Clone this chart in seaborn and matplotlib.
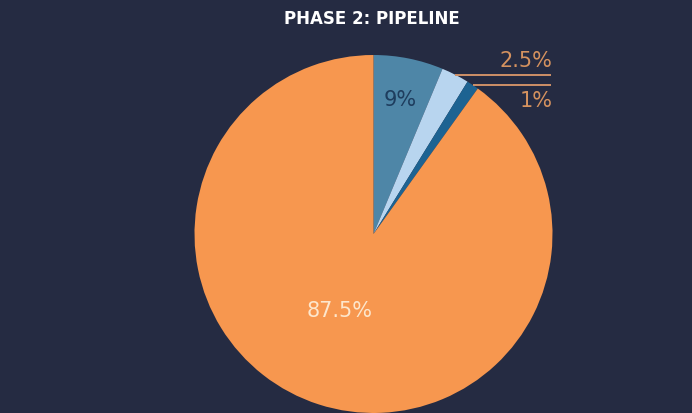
import numpy as np
import matplotlib
matplotlib.use("Agg")
import matplotlib.pyplot as plt
import seaborn as sns

# -----------------------------
# Data (slice sizes as drawn, labels as printed)
# -----------------------------
slice_names = ["Segment A", "Segment B", "Segment C", "Segment D"]
slice_sizes = [6.3, 2.5, 1.1, 90.1]
slice_labels = ["9%", "2.5%", "1%", "87.5%"]
slice_colors = ["#4e86a7", "#b8d5ef", "#1d6392", "#f7974f"]
title_text = "PHASE 2: PIPELINE"

BG = "#252b42"
LEADER = "#cf9068"

sns.set_theme(style="dark", rc={"figure.facecolor": BG, "axes.facecolor": BG})
plt.rcParams["font.family"] = ["DejaVu Sans"]

fig = plt.figure(figsize=(6.92, 4.14), dpi=100)
# axes square in pixels, centred on the pie
cx, cy, r_px = 373.5, 414 - 235, 180
ax = fig.add_axes([(cx - r_px) / 692, (cy - r_px) / 414, 2 * r_px / 692, 2 * r_px / 414])
ax.set_facecolor(BG)

palette = sns.color_palette(slice_colors)
wedges, _ = ax.pie(slice_sizes, colors=palette, startangle=90, counterclock=False,
                   radius=179 / 180, wedgeprops={"linewidth": 0})
ax.set_xlim(-1, 1)
ax.set_ylim(-1, 1)
ax.set_aspect("auto")
ax.axis("off")

def mid_angle(w):
    return np.deg2rad((w.theta1 + w.theta2) / 2)

R = 179 / 180
# inner labels
a = mid_angle(wedges[0])
ax.text(0.77 * R * np.cos(a), 0.77 * R * np.sin(a), slice_labels[0], color="#1e3d5e",
        fontsize=15, ha="center", va="center")
a = mid_angle(wedges[3]) - np.deg2rad(6.5)
ax.text(0.465 * R * np.cos(a), 0.465 * R * np.sin(a), slice_labels[3], color="#fde6cc",
        fontsize=15, ha="center", va="center")

# outer labels with horizontal leaders
x_end = 0.985
for i, above in [(1, True), (2, False)]:
    a = mid_angle(wedges[i])
    x0, y0 = R * np.cos(a), R * np.sin(a)
    ax.plot([x0, x_end], [y0, y0], color=LEADER, lw=1.4, solid_capstyle="butt", clip_on=False)
    ax.text(x_end + 0.01, y0 + (0.025 if above else -0.03), slice_labels[i], color="#d5925f",
            fontsize=15, ha="right", va="bottom" if above else "top")

fig.text(372 / 692, 1 - 19 / 414, title_text, color="white", fontsize=12,
         fontweight="heavy", ha="center", va="center")

fig.savefig("out.png", dpi=100, facecolor=BG)
